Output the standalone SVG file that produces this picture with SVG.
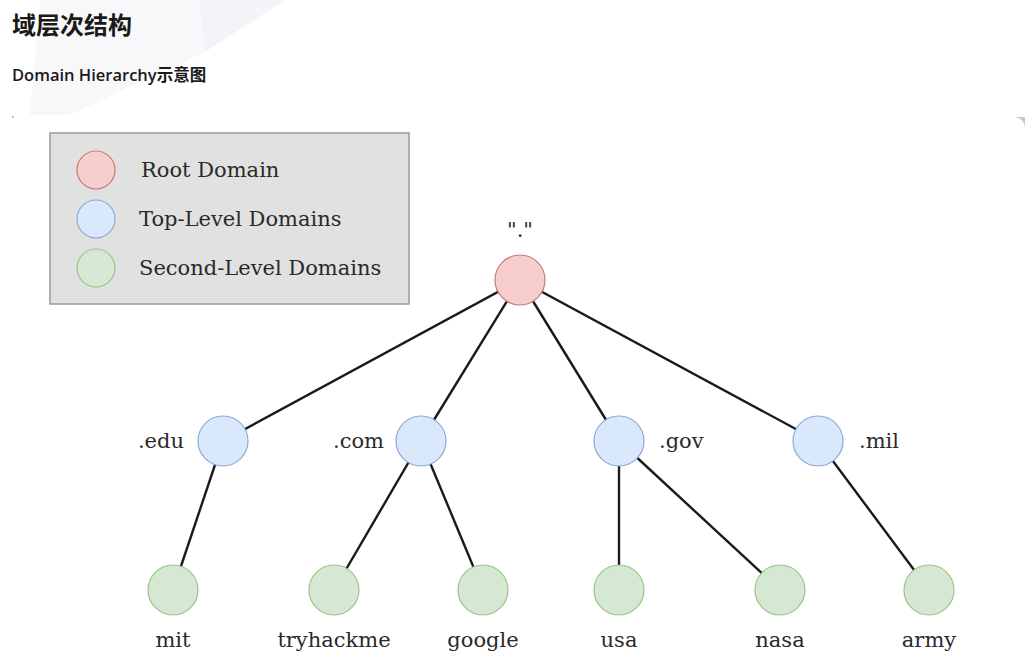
<svg xmlns="http://www.w3.org/2000/svg" width="1035" height="663" viewBox="0 0 1035 663">
<style>
.lbl{font-family:"DejaVu Serif","Liberation Serif",serif;font-size:21px;fill:#2a2a2a}
.lg{font-family:"DejaVu Serif","Liberation Serif",serif;font-size:21px;fill:#2a2a2a}
.root{fill:#f8cecc;stroke:#c87a77;stroke-width:1.2}
.tld{fill:#dae8fc;stroke:#8eaad4;stroke-width:1.2}
.sld{fill:#d5e8d4;stroke:#9cc585;stroke-width:1.2}
.edge{stroke:#1a1a1a;stroke-width:2.4;fill:none}
</style>
<rect width="1035" height="663" fill="#ffffff"/>
<g id="background" opacity="0.6">
<polygon points="40,0 250,0 205,52 70,115 30,115" fill="#f4f4f8"/>
<polygon points="200,0 285,0 205,52" fill="#eeeef5"/>
</g>
<g id="header">
<text x="12" y="34" font-family="'Noto Sans CJK SC',sans-serif" font-size="24" font-weight="bold" fill="#1a1a1a">域层次结构</text>
<text x="12" y="81" font-family="'Open Sans','Noto Sans CJK SC',sans-serif" font-size="16.5" font-weight="600" fill="#1a1a1a">Domain Hierarchy示意图</text>
<rect x="12" y="116" width="1.5" height="1.5" fill="#999"/>
<path d="M1014,117 Q1024,118 1025,128 L1025,117 Z" fill="#c8c8c8"/>
</g>
<g id="legend">
<rect x="50" y="133" width="359" height="171" fill="#e1e1e1" stroke="#9a9a9a" stroke-width="1.5"/>
<circle class="root" cx="96" cy="170" r="19"/>
<circle class="tld" cx="96" cy="219" r="19"/>
<circle class="sld" cx="96" cy="268" r="19"/>
<text class="lg" x="141" y="177">Root Domain</text>
<text class="lg" x="139" y="226">Top-Level Domains</text>
<text class="lg" x="139" y="275">Second-Level Domains</text>
</g>
<g id="connectors">
<line class="edge" x1="520" y1="280" x2="223" y2="441"/>
<line class="edge" x1="520" y1="280" x2="421" y2="441"/>
<line class="edge" x1="520" y1="280" x2="619" y2="441"/>
<line class="edge" x1="520" y1="280" x2="818" y2="441"/>
<line class="edge" x1="223" y1="441" x2="173" y2="590"/>
<line class="edge" x1="421" y1="441" x2="334" y2="590"/>
<line class="edge" x1="421" y1="441" x2="483" y2="590"/>
<line class="edge" x1="619" y1="441" x2="619" y2="590"/>
<line class="edge" x1="619" y1="441" x2="780" y2="590"/>
<line class="edge" x1="818" y1="441" x2="929" y2="590"/>
</g>
<g id="node-root"><circle class="root" cx="520" cy="280" r="25"/><text class="lbl" x="520" y="237" text-anchor="middle">"."</text></g>
<g id="node-edu"><circle class="tld" cx="223" cy="441" r="25"/><text class="lbl" x="184" y="448" text-anchor="end">.edu</text></g>
<g id="node-com"><circle class="tld" cx="421" cy="441" r="25"/><text class="lbl" x="384" y="448" text-anchor="end">.com</text></g>
<g id="node-gov"><circle class="tld" cx="619" cy="441" r="25"/><text class="lbl" x="659" y="448">.gov</text></g>
<g id="node-mil"><circle class="tld" cx="818" cy="441" r="25"/><text class="lbl" x="859" y="448">.mil</text></g>
<g id="node-mit"><circle class="sld" cx="173" cy="590" r="25"/><text class="lbl" x="173" y="647" text-anchor="middle">mit</text></g>
<g id="node-tryhackme"><circle class="sld" cx="334" cy="590" r="25"/><text class="lbl" x="334" y="647" text-anchor="middle">tryhackme</text></g>
<g id="node-google"><circle class="sld" cx="483" cy="590" r="25"/><text class="lbl" x="483" y="647" text-anchor="middle">google</text></g>
<g id="node-usa"><circle class="sld" cx="619" cy="590" r="25"/><text class="lbl" x="619" y="647" text-anchor="middle">usa</text></g>
<g id="node-nasa"><circle class="sld" cx="780" cy="590" r="25"/><text class="lbl" x="780" y="647" text-anchor="middle">nasa</text></g>
<g id="node-army"><circle class="sld" cx="929" cy="590" r="25"/><text class="lbl" x="929" y="647" text-anchor="middle">army</text></g>
</svg>
